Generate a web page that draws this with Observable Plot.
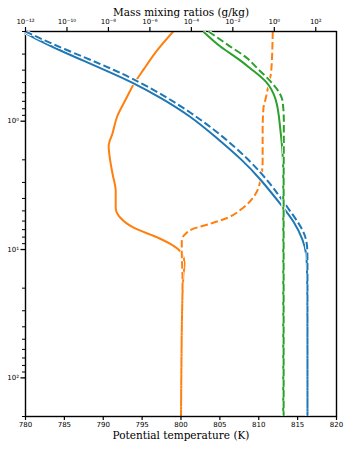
<!DOCTYPE html>
<html><head><meta charset="utf-8">
<script src="https://cdn.jsdelivr.net/npm/d3@7"></script>
<script src="https://cdn.jsdelivr.net/npm/@observablehq/plot@0.6"></script>
<style>
body{margin:0;background:#fff}
#wrap{position:relative;width:347px;height:450px;background:#fff}
#wrap svg{position:absolute;left:0;top:0}
</style></head><body><div id="wrap"></div>
<script>
// ---- data (pressure-like vertical coordinate, log, increasing downward) ----
// Potential temperature (K), bottom axis
const P_ORANGE_SOLID = [0.2, 0.277, 0.395, 0.517, 0.675, 0.915, 1.24, 1.56, 2.04, 2.58, 3.49, 4.72, 5.65, 6.75, 8.07, 9.31, 10.7, 12.8, 16.5, 21.9, 42.5, 200];
const T_ORANGE_SOLID = [799.0, 797.0, 795.2, 793.9, 792.9, 791.8, 791.2, 790.7, 790.9, 791.2, 791.6, 791.6, 792.2, 793.9, 797.0, 799.0, 800.1, 800.45, 800.3, 800.2, 800.1, 800.0];
const P_ORANGE_DASH = [0.2, 0.41, 0.507, 0.663, 0.793, 1.195, 2.04, 2.92, 3.68, 4.72, 5.65, 6.29, 6.88, 7.52, 8.51, 10.2, 17.4, 42.5, 200];
const T_ORANGE_DASH = [811.8, 811.6, 811.3, 810.9, 810.6, 810.5, 810.5, 810.2, 809.6, 808.0, 806.0, 803.8, 801.6, 800.6, 800.1, 800.1, 800.2, 800.1, 800.0];
// Mass mixing ratios, top axis (log10 of g/kg)
const P_BLUE_SOLID = [0.2, 0.208, 0.267, 0.349, 0.417, 0.49, 0.652, 0.915, 1.284, 2.04, 2.82, 4.72, 5.96, 8.51, 10.7, 14.5, 200];
const LQ_BLUE_SOLID = [-12.05, -12.0, -10.65, -9.01, -7.90, -6.94, -5.49, -4.04, -2.93, -1.49, -0.67, 0.44, 0.93, 1.41, 1.55, 1.60, 1.60];
const P_BLUE_DASH = [0.2, 0.253, 0.325, 0.388, 0.456, 0.607, 0.852, 1.261, 2.04, 3.08, 3.95, 5.45, 7.12, 8.98, 12.2, 200];
const LQ_BLUE_DASH = [-12.0, -10.65, -9.01, -7.90, -6.94, -5.49, -4.04, -2.60, -1.15, -0.18, 0.30, 0.93, 1.41, 1.60, 1.60, 1.60];
const P_GREEN_SOLID = [0.2, 0.262, 0.337, 0.388, 0.49, 0.675, 1.195, 1.80, 2.44, 200];
const LQ_GREEN_SOLID = [-3.43, -2.60, -1.63, -1.15, -0.42, 0.06, 0.30, 0.40, 0.43, 0.43];
const P_GREEN_DASH = [0.2, 0.253, 0.325, 0.388, 0.49, 0.585, 0.70, 1.0, 4.17, 200];
const LQ_GREEN_DASH = [-3.17, -2.26, -1.29, -0.81, -0.18, 0.20, 0.40, 0.46, 0.45, 0.45];

// ---- axes ----
const T_TICKS = [780, 785, 790, 795, 800, 805, 810, 815, 820];
const Q_TICK_EXPONENTS = [-12, -10, -8, -6, -4, -2, 0, 2];
const Y_MAJOR = [1, 10, 100];
const Y_MINOR = [0.2,0.3,0.4,0.5,0.6,0.7,0.8,0.9, 2,3,4,5,6,7,8,9, 20,30,40,50,60,70,80,90, 200];
const X_LABEL = "Potential temperature (K)";
const TOP_LABEL = "Mass mixing ratios (g/kg)";

const SUP = {"-":"\u207B","0":"\u2070","1":"\u00B9","2":"\u00B2","3":"\u00B3","4":"\u2074","5":"\u2075","6":"\u2076","7":"\u2077","8":"\u2078","9":"\u2079"};
const pow10Label = (e) => "10" + String(e).split("").map(c => SUP[c]).join("");

const BLUE = "#1f77b4", ORANGE = "#ff7f0e", GREEN = "#2ca02c";
const DASH = "7.4,3.2";

const rows = (P, V, tf = v => v) => P.map((p, i) => ({p, v: tf(V[i])}));
const pow = v => Math.pow(10, v);

function lineWithHalo(data, color, dashed, curve) {
  const common = {x: "v", y: "p", curve, clip: true, strokeLinecap: "butt", strokeLinejoin: "round"};
  if (dashed) common.strokeDasharray = DASH;
  return [
    Plot.line(data, {...common, stroke: "white", strokeWidth: 3.8}),
    Plot.line(data, {...common, stroke: color, strokeWidth: 2})
  ];
}

const W = 347, H = 450;
const margins = {marginLeft: 25, marginRight: 11, marginTop: 31, marginBottom: 34};
const yScale = {type: "log", domain: [0.2, 200], reverse: true};
const style = {fontFamily: "DejaVu Sans", fontSize: "7px", background: "transparent", overflow: "visible", color: "black"};

const plotA = Plot.plot({
  width: W, height: H, ...margins, style,
  x: {domain: [780, 820]},
  y: yScale,
  marks: [
    ...lineWithHalo(rows(P_ORANGE_SOLID, T_ORANGE_SOLID), ORANGE, false, "monotone-y"),
    ...lineWithHalo(rows(P_ORANGE_DASH, T_ORANGE_DASH), ORANGE, true, "monotone-y"),
    Plot.axisX({ticks: T_TICKS, tickSize: 4, tickPadding: 2, label: null, strokeWidth: 1.2, tickFormat: d => String(d)}),
    Plot.axisY({ticks: Y_MINOR, tickSize: 3, label: null, tickFormat: () => "", strokeWidth: 1}),
    Plot.axisY({ticks: Y_MAJOR, tickSize: 4.5, tickPadding: 2, label: null, strokeWidth: 1.3, tickFormat: d => pow10Label(Math.round(Math.log10(d)))}),
    Plot.frame({stroke: "black", strokeWidth: 1.4}),
    Plot.text([X_LABEL], {frameAnchor: "bottom", dy: 22.5, fontSize: 10.5, fontFamily: "DejaVu Serif", fill: "black"})
  ]
});

const plotB = Plot.plot({
  width: W, height: H, ...margins, style,
  x: {type: "log", domain: [1e-12, 1e3]},
  y: {...yScale, axis: null},
  marks: [
    ...lineWithHalo(rows(P_BLUE_SOLID, LQ_BLUE_SOLID, pow), BLUE, false, "basis"),
    ...lineWithHalo(rows(P_BLUE_DASH, LQ_BLUE_DASH, pow), BLUE, true, "basis"),
    ...lineWithHalo(rows(P_GREEN_SOLID, LQ_GREEN_SOLID, pow), GREEN, false, "monotone-y"),
    ...lineWithHalo(rows(P_GREEN_DASH, LQ_GREEN_DASH, pow), GREEN, true, "monotone-y"),
    Plot.axisX({anchor: "top", ticks: Q_TICK_EXPONENTS.map(pow), tickSize: 5, tickPadding: 3, label: null, strokeWidth: 1.2, tickFormat: d => pow10Label(Math.round(Math.log10(d)))}),
    Plot.text([TOP_LABEL], {frameAnchor: "top", dy: -23, fontSize: 10.5, fontFamily: "DejaVu Serif", fill: "black"})
  ]
});

const wrap = document.getElementById("wrap");
wrap.appendChild(plotA);
wrap.appendChild(plotB);
</script></body></html>
